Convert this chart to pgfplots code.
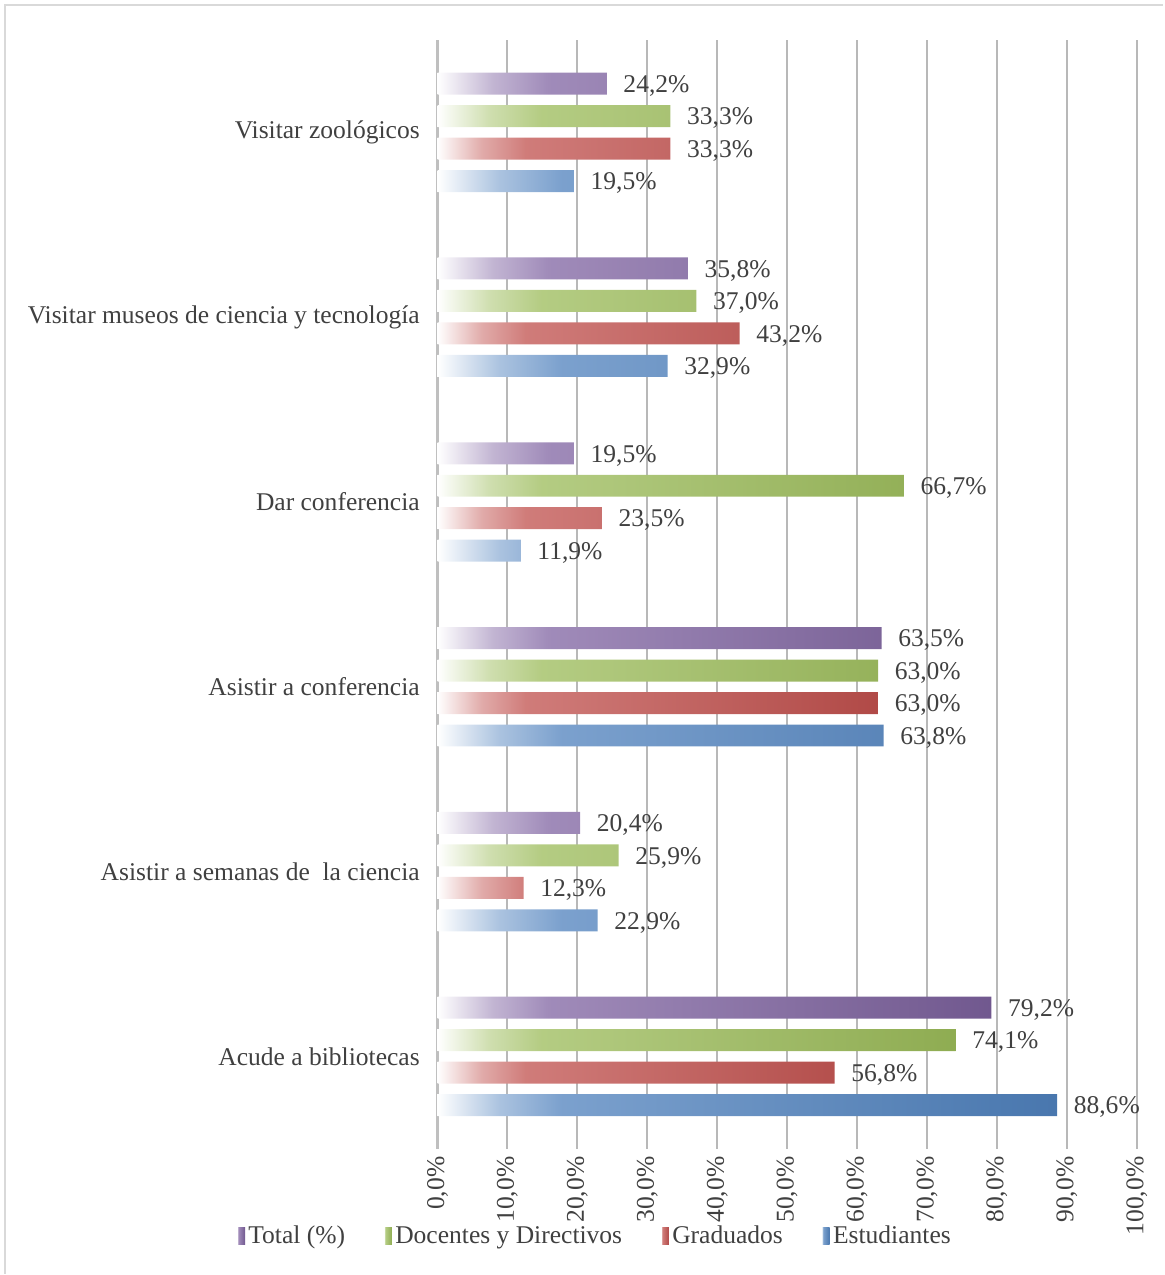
\documentclass[border=0pt]{standalone}
\usepackage{pgfplots}
\pgfplotsset{compat=1.18}
\usepackage{fontspec}
\setmainfont{Liberation Serif}

\definecolor{cTot}{RGB}{128,100,162}
\definecolor{cDoc}{RGB}{155,187,89}
\definecolor{cGra}{RGB}{192,80,77}
\definecolor{cEst}{RGB}{79,129,189}
\definecolor{txt}{RGB}{64,64,64}

% white on the left, fading into the series colour
\pgfdeclarehorizontalshading{shTot}{100bp}{color(0bp)=(white); color(25bp)=(white); color(30bp)=(cTot!48); color(35bp)=(cTot!75); color(75bp)=(cTot!88!black); color(100bp)=(cTot!88!black)}
\pgfdeclarehorizontalshading{shDoc}{100bp}{color(0bp)=(white); color(25bp)=(white); color(30bp)=(cDoc!48); color(35bp)=(cDoc!75); color(75bp)=(cDoc!92!black); color(100bp)=(cDoc!92!black)}
\pgfdeclarehorizontalshading{shGra}{100bp}{color(0bp)=(white); color(25bp)=(white); color(30bp)=(cGra!48); color(35bp)=(cGra!75); color(75bp)=(cGra!92!black); color(100bp)=(cGra!92!black)}
\pgfdeclarehorizontalshading{shEst}{100bp}{color(0bp)=(white); color(25bp)=(white); color(30bp)=(cEst!48); color(35bp)=(cEst!75); color(75bp)=(cEst!92!black); color(100bp)=(cEst!92!black)}

\begin{document}
\begin{tikzpicture}
\path (0,0) rectangle (523.8pt,-573.75pt);
\draw[black!15, line width=1.2pt] (2.25pt,-573.75pt) -- (2.25pt,-2.25pt) -- (523.8pt,-2.25pt);
\begin{axis}[
    at={(197.1pt,-517.5pt)}, anchor=south west,
    scale only axis,
    width=315pt, height=499.5pt,
    xbar, bar width=9.9pt,
    xmin=0, xmax=100,
    ymin=-0.5, ymax=5.5,
    xtick={0,10,...,100},
    ytick={0,...,5},
    yticklabels={Acude a bibliotecas, Asistir a semanas de\ \ la ciencia, Asistir a conferencia, Dar conferencia, Visitar museos de ciencia y tecnología\ , Visitar zoológicos},
    xticklabel={\pgfmathprintnumber[fixed,fixed zerofill,precision=1,use comma]{\tick}\%},
    /pgf/number format/assume math mode=true,
    font=\fontsize{11.5}{13}\selectfont,
    tick label style={text=txt},
    xticklabel style={rotate=90, anchor=east},
    yticklabel style={xshift=-4.5pt},
    axis lines*=left,
    x axis line style={draw=none},
    y axis line style={black!25, line width=1.3pt},
    major tick length=0pt,
    xmajorgrids,
    grid style={black!28, line width=0.9pt},
    nodes near coords={\pgfmathprintnumber[fixed,fixed zerofill,precision=1,use comma]{\pgfplotspointmeta}\%},
    every node near coord/.append style={anchor=west, xshift=4pt, yshift=-1pt, text=txt, font=\fontsize{11.5}{13}\selectfont},
    legend image code/.code={\path[#1, draw=none] (0pt,-3.8pt) rectangle (3.6pt,3.8pt);},
    reverse legend,
    legend columns=4,
    legend style={at={(0.226,-0.079)}, anchor=center, draw=none, fill=none,
        text=txt, font=\fontsize{11.5}{13}\selectfont,
        /tikz/every even column/.append style={column sep=16pt},
        nodes={inner xsep=1.5pt}},
]
\addplot[shade, shading=shEst, draw=none, bar shift=-21.94pt] coordinates {(88.6,0) (22.9,1) (63.8,2) (11.9,3) (32.9,4) (19.5,5)};
\addplot[shade, shading=shGra, draw=none, bar shift=-7.31pt] coordinates {(56.8,0) (12.3,1) (63.0,2) (23.5,3) (43.2,4) (33.3,5)};
\addplot[shade, shading=shDoc, draw=none, bar shift=7.31pt] coordinates {(74.1,0) (25.9,1) (63.0,2) (66.7,3) (37.0,4) (33.3,5)};
\addplot[shade, shading=shTot, draw=none, bar shift=21.94pt] coordinates {(79.2,0) (20.4,1) (63.5,2) (19.5,3) (35.8,4) (24.2,5)};
\legend{Estudiantes, Graduados, Docentes y Directivos, Total (\%)}
\end{axis}
\end{tikzpicture}
\end{document}
